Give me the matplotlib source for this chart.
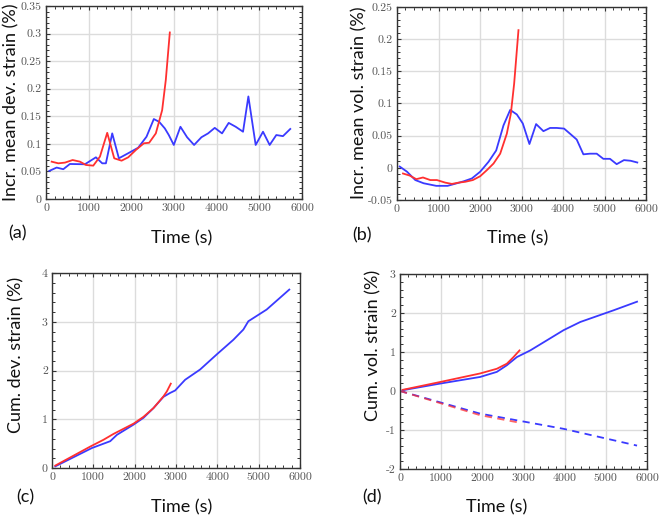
import matplotlib
matplotlib.use("Agg")
import matplotlib.pyplot as plt
from matplotlib.ticker import AutoMinorLocator, FuncFormatter

plt.rcParams['axes.unicode_minus'] = False

# ---------------- data ----------------
# (a) Incremental mean deviatoric strain (%)
a_blue_t = [78, 250, 405, 560, 912, 1170, 1318, 1404, 1552, 1708, 1927, 2160, 2356, 2527,
            2652, 2785, 2878, 2995, 3151, 3307, 3471, 3643, 3799, 3955, 4126, 4282, 4446,
            4618, 4743, 4914, 5086, 5242, 5398, 5554, 5725]
a_blue_v = [0.051, 0.057, 0.054, 0.0635, 0.063, 0.0756, 0.0647, 0.0647, 0.119, 0.0738, 0.083,
            0.093, 0.113, 0.145, 0.140, 0.128, 0.116, 0.098, 0.131, 0.112, 0.098, 0.112, 0.119,
            0.129, 0.119, 0.138, 0.131, 0.122, 0.186, 0.098, 0.122, 0.098, 0.116, 0.114, 0.127]
a_red_t = [133, 289, 445, 624, 796, 936, 1108, 1264, 1435, 1599, 1771, 1927, 2106, 2293,
           2418, 2574, 2722, 2808, 2902]
a_red_v = [0.0677, 0.0647, 0.066, 0.0707, 0.0677, 0.0617, 0.0605, 0.0768, 0.120, 0.0738,
           0.0695, 0.0756, 0.0889, 0.101, 0.102, 0.119, 0.161, 0.216, 0.302]

# (b) Incremental mean volumetric strain (%)
b_blue_t = [65, 241, 441, 642, 946, 1219, 1443, 1604, 1804, 2005, 2205, 2390, 2566, 2727,
            2887, 3031, 3191, 3352, 3528, 3689, 3849, 4026, 4170, 4330, 4491, 4651, 4812,
            4972, 5132, 5293, 5469, 5629, 5790]
b_blue_v = [0.002, -0.006, -0.019, -0.024, -0.028, -0.028, -0.024, -0.021, -0.0165, -0.006,
            0.0093, 0.027, 0.066, 0.090, 0.083, 0.069, 0.037, 0.068, 0.057, 0.062, 0.062,
            0.061, 0.053, 0.044, 0.021, 0.022, 0.022, 0.014, 0.014, 0.0057, 0.012, 0.011, 0.0083]
b_red_t = [144, 305, 465, 626, 802, 962, 1163, 1323, 1484, 1644, 1828, 2005, 2165, 2326,
           2486, 2646, 2743, 2823, 2927]
b_red_v = [-0.0088, -0.012, -0.0176, -0.015, -0.019, -0.019, -0.023, -0.025, -0.023, -0.0217,
           -0.019, -0.013, -0.0036, 0.0067, 0.022, 0.053, 0.084, 0.131, 0.214]

# (c) Cumulative deviatoric strain (%)
c_blue_t = [80, 966, 1409, 1570, 1973, 2214, 2456, 2697, 2858, 2979, 3221, 3583, 3986, 4388,
            4630, 4750, 5193, 5741]
c_blue_v = [0.034, 0.41, 0.55, 0.68, 0.89, 1.03, 1.23, 1.46, 1.54, 1.59, 1.81, 2.02, 2.33,
            2.63, 2.84, 3.01, 3.25, 3.66]
c_red_t = [80, 926, 1248, 1490, 1651, 1973, 2214, 2456, 2697, 2778, 2874]
c_red_v = [0.05, 0.44, 0.58, 0.70, 0.77, 0.91, 1.05, 1.23, 1.47, 1.57, 1.73]

# (d) Cumulative volumetric strain (%)
d_blue_t = [65, 973, 1946, 2352, 2595, 2839, 3163, 3569, 3974, 4380, 4785, 5190, 5758]
d_blue_v = [0.02, 0.19, 0.36, 0.49, 0.66, 0.87, 1.04, 1.30, 1.56, 1.77, 1.92, 2.07, 2.29]
d_red_t = [65, 973, 1946, 2352, 2595, 2757, 2903]
d_red_v = [0.03, 0.23, 0.45, 0.57, 0.70, 0.87, 1.04]
d_blue_dash_t = [0, 1946, 3974, 5758]
d_blue_dash_v = [0.0, -0.58, -0.97, -1.40]
d_red_dash_t = [0, 1946, 2839]
d_red_dash_v = [0.0, -0.62, -0.80]

x_ticks = [0, 1000, 2000, 3000, 4000, 5000, 6000]
a_yticks = [0, 0.05, 0.1, 0.15, 0.2, 0.25, 0.3, 0.35]
b_yticks = [-0.05, 0, 0.05, 0.1, 0.15, 0.2, 0.25]
c_yticks = [0, 1, 2, 3, 4]
d_yticks = [-2, -1, 0, 1, 2, 3]

BLUE = '#3a3aff'
RED = '#ff3030'
LBL_FONT = ['Lato', 'DejaVu Sans']

W, H = 661, 520
fig = plt.figure(figsize=(W / 100, H / 100), dpi=100)


def make_ax(l, r, t, b):
    return fig.add_axes([l / W, 1 - b / H, (r - l) / W, (b - t) / H])


def style(ax, yticks):
    ax.set_xlim(0, 6000)
    ax.set_ylim(yticks[0], yticks[-1])
    ax.set_xticks(x_ticks)
    ax.set_yticks(yticks)
    ax.xaxis.set_minor_locator(AutoMinorLocator(5))
    ax.yaxis.set_minor_locator(AutoMinorLocator(5))
    fmt = FuncFormatter(lambda v, p: '{:g}'.format(round(v, 6)))
    ax.xaxis.set_major_formatter(fmt)
    ax.yaxis.set_major_formatter(fmt)
    ax.tick_params(which='both', direction='in', top=True, right=True,
                   color='#333333', labelcolor='#555555', labelsize=8.5)
    ax.tick_params(which='major', length=3, width=0.8, pad=3)
    ax.tick_params(which='minor', length=2, width=0.7)
    for lab in ax.get_xticklabels() + ax.get_yticklabels():
        lab.set_fontfamily('cmr10')
    for s in ax.spines.values():
        s.set_color('#333333')
        s.set_linewidth(1.0)
    ax.grid(True, which='major', color='#dcdcdc', linewidth=1.0)
    ax.set_axisbelow(True)


# (a)
ax = make_ax(46, 302, 6, 199)
ax.plot(a_blue_t, a_blue_v, color=BLUE, lw=1.3)
ax.plot(a_red_t, a_red_v, color=RED, lw=1.3)
style(ax, a_yticks)

# (b)
ax = make_ax(397, 646, 7, 200)
ax.plot(b_blue_t, b_blue_v, color=BLUE, lw=1.3)
ax.plot(b_red_t, b_red_v, color=RED, lw=1.3)
style(ax, b_yticks)

# (c)
ax = make_ax(52, 300, 273, 468)
ax.plot(c_blue_t, c_blue_v, color=BLUE, lw=1.3)
ax.plot(c_red_t, c_red_v, color=RED, lw=1.3)
style(ax, c_yticks)

# (d)
ax = make_ax(400, 647, 274, 469)
ax.plot(d_blue_t, d_blue_v, color=BLUE, lw=1.3)
ax.plot(d_red_t, d_red_v, color=RED, lw=1.3)
ax.plot(d_blue_dash_t, d_blue_dash_v, color=BLUE, lw=1.3, dashes=(4, 3))
ax.plot(d_red_dash_t, d_red_dash_v, color=RED, lw=1.3, dashes=(4, 3), alpha=0.75)
style(ax, d_yticks)


def ftext(x, y, s, **kw):
    fig.text(x / W, 1 - y / H, s, family=LBL_FONT, color='#111111', **kw)


LS = 13
# x labels
ftext(182, 238, 'Time (s)', fontsize=LS, ha='center', va='center')
ftext(518, 238, 'Time (s)', fontsize=LS, ha='center', va='center')
ftext(182, 507, 'Time (s)', fontsize=LS, ha='center', va='center')
ftext(497, 507, 'Time (s)', fontsize=LS, ha='center', va='center')
# y labels
ftext(11, 102, 'Incr. mean dev. strain (%)', fontsize=LS, rotation=90, ha='center', va='center')
ftext(359, 103, 'Incr. mean vol. strain (%)', fontsize=LS, rotation=90, ha='center', va='center')
ftext(16, 355, 'Cum. dev. strain (%)', fontsize=LS, rotation=90, ha='center', va='center')
ftext(373, 345, 'Cum. vol. strain (%)', fontsize=LS, rotation=90, ha='center', va='center')
# panel labels
ftext(8, 233, '(a)', fontsize=13, ha='left', va='center')
ftext(352, 235, '(b)', fontsize=13, ha='left', va='center')
ftext(16, 497, '(c)', fontsize=13, ha='left', va='center')
ftext(362, 497, '(d)', fontsize=13, ha='left', va='center')

fig.savefig('out.png', dpi=100)
